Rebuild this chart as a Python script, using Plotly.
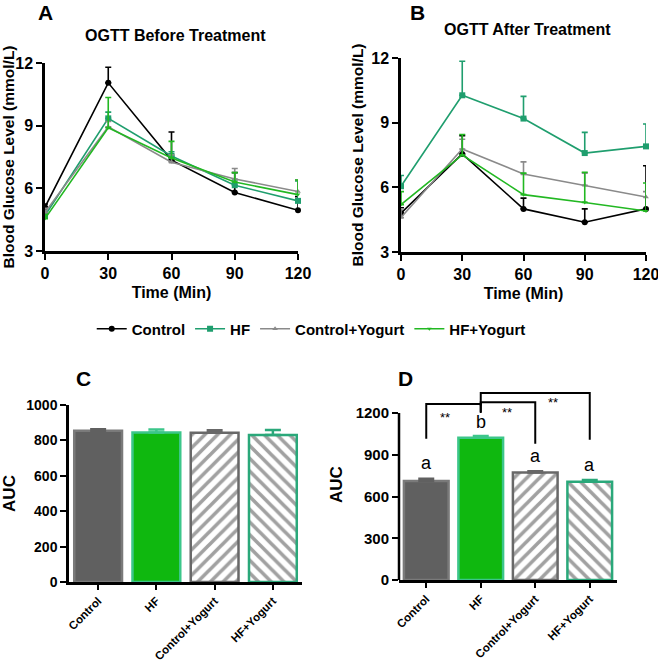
import plotly.graph_objects as go

W, H = 658, 663

# ---------------- data ----------------
time_min = [0, 30, 60, 90, 120]
groups = ["Control", "HF", "Control+Yogurt", "HF+Yogurt"]

before_mean = {
    "Control":        [5.1, 11.05, 7.35, 5.8, 4.95],
    "HF":             [4.7, 9.35, 7.55, 6.15, 5.4],
    "Control+Yogurt": [4.85, 8.95, 7.25, 6.45, 5.85],
    "HF+Yogurt":      [4.55, 8.9, 7.45, 6.3, 5.7],
}
before_err = {
    "Control":        [0.15, 0.75, 1.35, 0.95, 0.65],
    "HF":             [0.2, 0.3, 0.2, 0.25, 0.95],
    "Control+Yogurt": [0.2, 0.25, 0.35, 0.5, 0.55],
    "HF+Yogurt":      [0.2, 1.45, 0.8, 0.45, 0.7],
}
after_mean = {
    "Control":        [4.8, 7.55, 5.0, 4.38, 5.0],
    "HF":             [6.05, 10.27, 9.19, 7.59, 7.9],
    "Control+Yogurt": [4.6, 7.78, 6.62, 6.1, 5.55],
    "HF+Yogurt":      [5.2, 7.5, 5.66, 5.3, 4.9],
}
after_err = {
    "Control":        [0.25, 0.85, 0.5, 0.62, 2.0],
    "HF":             [0.5, 1.58, 1.03, 0.96, 1.04],
    "Control+Yogurt": [0.4, 0.45, 0.56, 0.56, 0.25],
    "HF+Yogurt":      [0.6, 0.95, 1.0, 1.4, 1.3],
}
auc_before = [855, 845, 843, 830]
auc_before_err = [8, 17, 14, 29]
auc_after = [712, 1022, 772, 706]
auc_after_err = [16, 12, 10, 12]
letters_after = ["a", "b", "a", "a"]
# significance brackets in panel D: (left group, right group, left foot, right foot, top)
brackets = [
    (0, 1, 1015, 1200, 1265),
    (1, 2, 1207, 979, 1277),
    (1, 3, 1253, 1008, 1344),
]
stars_x = [0.35, 1.48, 2.33]
stars_y = [1171, 1207, 1272]

y_ticks_ogtt = [3, 6, 9, 12]
c_ticks = [0, 200, 400, 600, 800, 1000]
d_ticks = [0, 300, 600, 900, 1200]

# ---------------- styling ----------------
FONT = "Liberation Sans, Arial, sans-serif"
line_colors = {"Control": "#000000", "HF": "#1f9e6e", "Control+Yogurt": "#8a8a8a", "HF+Yogurt": "#22b822"}
symbols = {"Control": "circle", "HF": "square", "Control+Yogurt": "triangle-up", "HF+Yogurt": "triangle-down"}
msize = {"Control": 6, "HF": 6, "Control+Yogurt": 5, "HF+Yogurt": 4}


def bfont(size, weight="bold"):
    return dict(family=FONT, size=size, color="black", weight=weight)


def px_x(p):
    return p / W


def px_y(p):
    return 1 - p / H


fig = go.Figure()

# line panels
for name in groups:
    for k, (means, errs, xa, ya) in enumerate([(before_mean, before_err, "x", "y"),
                                                (after_mean, after_err, "x2", "y2")]):
        fig.add_trace(go.Scatter(
            x=time_min, y=means[name], xaxis=xa, yaxis=ya, name=name,
            mode="lines+markers", showlegend=(k == 0), cliponaxis=False,
            line=dict(color=line_colors[name], width=1.6),
            marker=dict(symbol=symbols[name], size=msize[name], color=line_colors[name]),
            error_y=dict(type="data", symmetric=False, array=errs[name],
                         arrayminus=[0] * len(errs[name]),
                         color=line_colors[name], thickness=1.6, width=3),
        ))

# bar styles
bar_fill = ["#606060", "#0fb80f", "white", "white"]
bar_line = ["#7a7a7a", "#3cc68a", "#686868", "#2aa87a"]
err_col = ["#606060", "#3cc68a", "#686868", "#2aa87a"]
bar_pat = ["", "", "/", "\\"]
bar_pat_fg = ["#606060", "#0fb80f", "#686868", "#2aa87a"]

for vals, xa, ya in [(auc_before, "x3", "y3"), (auc_after, "x4", "y4")]:
    fig.add_trace(go.Bar(
        x=groups, y=vals, xaxis=xa, yaxis=ya, showlegend=False, width=0.82,
        marker=dict(color=bar_fill, line=dict(color=bar_line, width=2.5),
                    pattern=dict(shape=bar_pat, fgcolor=bar_pat_fg, bgcolor="white",
                                 size=9, solidity=0.4)),
    ))
# upper-only error bars, coloured per bar
for vals, errs, xa, ya in [(auc_before, auc_before_err, "x3", "y3"),
                           (auc_after, auc_after_err, "x4", "y4")]:
    for i, g in enumerate(groups):
        fig.add_trace(go.Scatter(
            x=[g], y=[vals[i]], xaxis=xa, yaxis=ya, mode="markers", showlegend=False,
            marker=dict(size=1, color="rgba(0,0,0,0)"), cliponaxis=False, hoverinfo="skip",
            error_y=dict(type="data", symmetric=False, array=[errs[i]], arrayminus=[0],
                         color=err_col[i], thickness=2.5, width=8),
        ))

# brackets for panel D
for (a, b, yl, yr, top) in brackets:
    fig.add_trace(go.Scatter(
        x=[groups[a], groups[a], groups[b], groups[b]], y=[yl, top, top, yr],
        xaxis="x4", yaxis="y4", cliponaxis=False,
        mode="lines", showlegend=False, line=dict(color="black", width=2),
        hoverinfo="skip",
    ))
for sx, sy in zip(stars_x, stars_y):
    fig.add_annotation(x=sx, y=sy, xref="x4", yref="y4",
                       text="**", showarrow=False, font=bfont(13, "normal"))
for i, (v, e, l) in enumerate(zip(auc_after, auc_after_err, letters_after)):
    fig.add_annotation(x=i, y=v + e + (110 if l == "a" else 100), xref="x4", yref="y4",
                       text=l, showarrow=False, font=bfont(18, "normal"))

# ---------------- axes ----------------
common = dict(showline=True, linecolor="black", linewidth=2.5, ticks="outside",
              tickwidth=2, ticklen=6, tickcolor="black", showgrid=False, zeroline=False,
              automargin=False, ticklabeloverflow="allow")
ogtt_tick = bfont(16)
cat_tick = bfont(11.5)

fig.update_layout(
    width=W, height=H, margin=dict(l=0, r=0, t=0, b=0, autoexpand=False),
    paper_bgcolor="white", plot_bgcolor="white",
    font=dict(family=FONT, color="black"),
    xaxis=dict(domain=[px_x(45), px_x(298)], range=[0, 120], tickvals=time_min, anchor="y",
               title=dict(text="Time (Min)", font=bfont(16), standoff=6), tickfont=ogtt_tick, **common),
    yaxis=dict(domain=[px_y(251), px_y(63)], range=[3, 12], tickvals=y_ticks_ogtt, anchor="x",
               title=dict(text="Blood Glucose Level (mmol/L)", font=bfont(15.5), standoff=4),
               tickfont=ogtt_tick, **common),
    xaxis2=dict(domain=[px_x(401), px_x(646)], range=[0, 120], tickvals=time_min, anchor="y2",
                title=dict(text="Time (Min)", font=bfont(16), standoff=6), tickfont=ogtt_tick, **common),
    yaxis2=dict(domain=[px_y(252), px_y(58)], range=[3, 12], tickvals=y_ticks_ogtt, anchor="x2",
                title=dict(text="Blood Glucose Level (mmol/L)", font=bfont(15.5), standoff=4),
                tickfont=ogtt_tick, **common),
    xaxis3=dict(domain=[px_x(69), px_x(302)], range=[-0.5, 3.5], anchor="y3",
                tickangle=-45, tickfont=cat_tick, **{**common, "ticklen": 5}),
    yaxis3=dict(domain=[px_y(582), px_y(405)], range=[0, 1000], tickvals=c_ticks, anchor="x3",
                title=dict(text="AUC", font=bfont(17), standoff=8),
                tickfont=bfont(14), **common),
    xaxis4=dict(domain=[px_x(399), px_x(617)], range=[-0.5, 3.5], anchor="y4",
                tickangle=-45, tickfont=cat_tick, **{**common, "ticklen": 5}),
    yaxis4=dict(domain=[px_y(580), px_y(580 - 1370 * 167 / 1200)], range=[0, 1370],
                tickvals=d_ticks, anchor="x4",
                title=dict(text="AUC", font=bfont(17), standoff=8),
                tickfont=bfont(15), **{**common, "showline": False}),
    legend=dict(orientation="h", x=0.473, xanchor="center", y=px_y(329), yanchor="middle",
                font=bfont(15), itemwidth=30,
                bgcolor="rgba(0,0,0,0)", traceorder="normal"),
)

# y-axis line for panel D only up to 1200
fig.add_shape(type="line", xref="paper", yref="y4", x0=px_x(399), x1=px_x(399),
              y0=0, y1=d_ticks[-1], line=dict(color="black", width=2.5))

# titles and panel letters
for txt, x, y, size in [("OGTT Before Treatment", 175, 35, 16),
                        ("OGTT After Treatment", 527, 30, 16),
                        ("A", 45, 12, 21), ("B", 418, 12, 21),
                        ("C", 83, 378, 21), ("D", 405, 378, 21)]:
    fig.add_annotation(x=px_x(x), y=px_y(y), xref="paper", yref="paper", text=txt,
                       showarrow=False, xanchor="center", yanchor="middle",
                       font=bfont(size))

fig.write_html("out.html", config={"displayModeBar": False},
               post_script="document.body.style.margin='0';document.body.style.overflow='hidden';")
